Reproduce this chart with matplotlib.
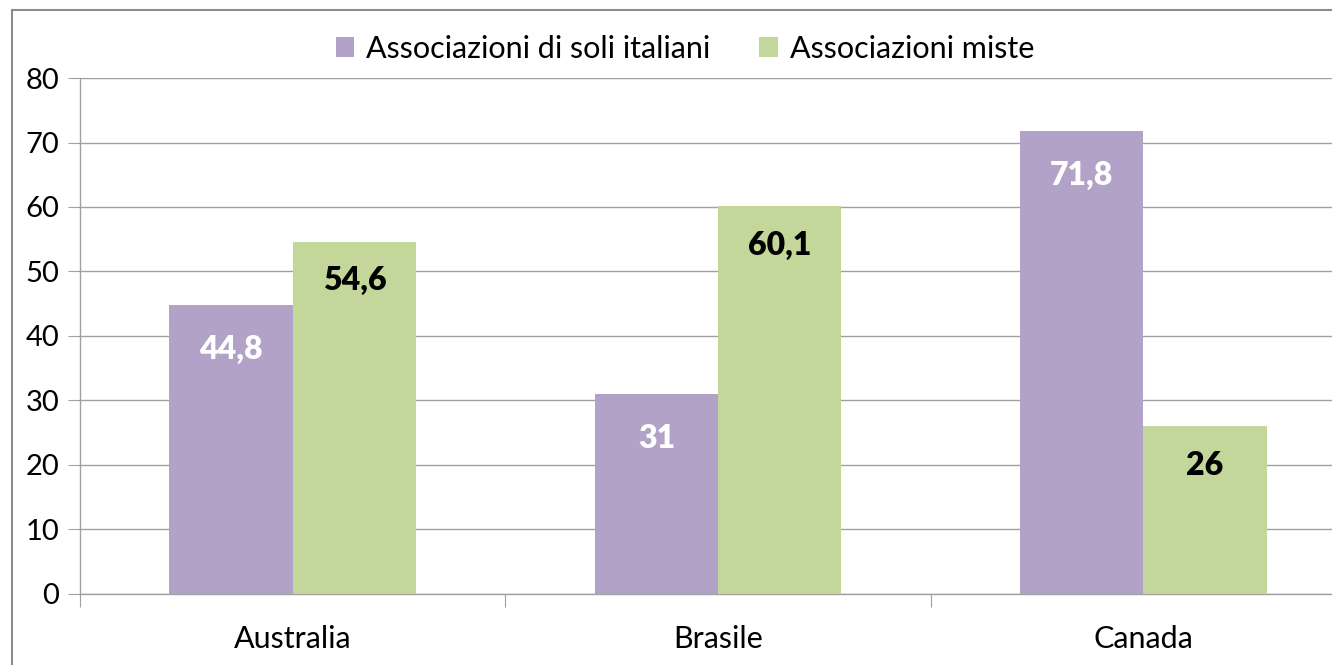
import numpy as np
import matplotlib.pyplot as plt
from matplotlib.lines import Line2D
from matplotlib.ticker import FixedLocator, NullFormatter

plt.rcParams['font.family'] = ['Lato', 'DejaVu Sans']

# data
paesi = ["Australia", "Brasile", "Canada"]
soli_italiani = [44.8, 31, 71.8]
miste = [54.6, 60.1, 26]
serie_nomi = ["Associazioni di soli italiani", "Associazioni miste"]
etichette_soli = ["44,8", "31", "71,8"]
etichette_miste = ["54,6", "60,1", "26"]

col_viola = "#B3A2C7"
col_verde = "#C4D79B"
col_grigio = "#A0A0A0"

fig = plt.figure(figsize=(13.32, 6.65), dpi=100)
ax = fig.add_axes([0.0601, 0.1068, 0.958, 0.7759])

x = np.arange(len(paesi))
w = 0.29
b1 = ax.bar(x - w / 2, soli_italiani, w, color=col_viola, label=serie_nomi[0], zorder=3)
b2 = ax.bar(x + w / 2, miste, w, color=col_verde, label=serie_nomi[1], zorder=3)

# value labels just inside the top of each bar
for rect, txt in zip(b1, etichette_soli):
    ax.annotate(txt, (rect.get_x() + rect.get_width() / 2, rect.get_height()),
                xytext=(0, -32), textcoords='offset points', ha='center', va='center',
                fontsize=23, fontweight='heavy', color='white', zorder=4)
for rect, txt in zip(b2, etichette_miste):
    ax.annotate(txt, (rect.get_x() + rect.get_width() / 2, rect.get_height()),
                xytext=(0, -28), textcoords='offset points', ha='center', va='center',
                fontsize=23, fontweight='heavy', color='black', zorder=4)

ax.set_xlim(-0.5, 2.5)
ax.set_ylim(0, 80)
ax.set_yticks(np.arange(0, 81, 10))
ax.yaxis.grid(True, color=col_grigio, linewidth=1)
ax.set_axisbelow(True)

# category boundaries as major ticks, labels on minor ticks
ax.xaxis.set_major_locator(FixedLocator([-0.5, 0.5, 1.5, 2.5]))
ax.xaxis.set_major_formatter(NullFormatter())
ax.xaxis.set_minor_locator(FixedLocator(x))
ax.set_xticklabels(paesi, minor=True)
ax.tick_params(axis='x', which='minor', length=0, labelsize=22, pad=22)
ax.tick_params(axis='x', which='major', length=9, color=col_grigio, direction='out')
ax.tick_params(axis='y', length=9, color=col_grigio, labelsize=21, pad=6)

for s in ['top', 'right']:
    ax.spines[s].set_visible(False)
for s in ['left', 'bottom']:
    ax.spines[s].set_color(col_grigio)
    ax.spines[s].set_linewidth(1)

ax.legend(loc='center', bbox_to_anchor=((685 - 80) / (0.958 * 1332), 1.057),
          ncol=2, frameon=False, fontsize=22, handlelength=0.6, handleheight=0.6,
          handletextpad=0.4, columnspacing=1.6)

# outer chart frame
fig.add_artist(Line2D([12 / 1332, 12 / 1332], [0, 1 - 10 / 665], color='#8C8C8C', linewidth=1.5,
                      transform=fig.transFigure))
fig.add_artist(Line2D([12 / 1332, 1], [1 - 10 / 665, 1 - 10 / 665], color='#8C8C8C', linewidth=1.5,
                      transform=fig.transFigure))

fig.savefig("out.png", dpi=100)
